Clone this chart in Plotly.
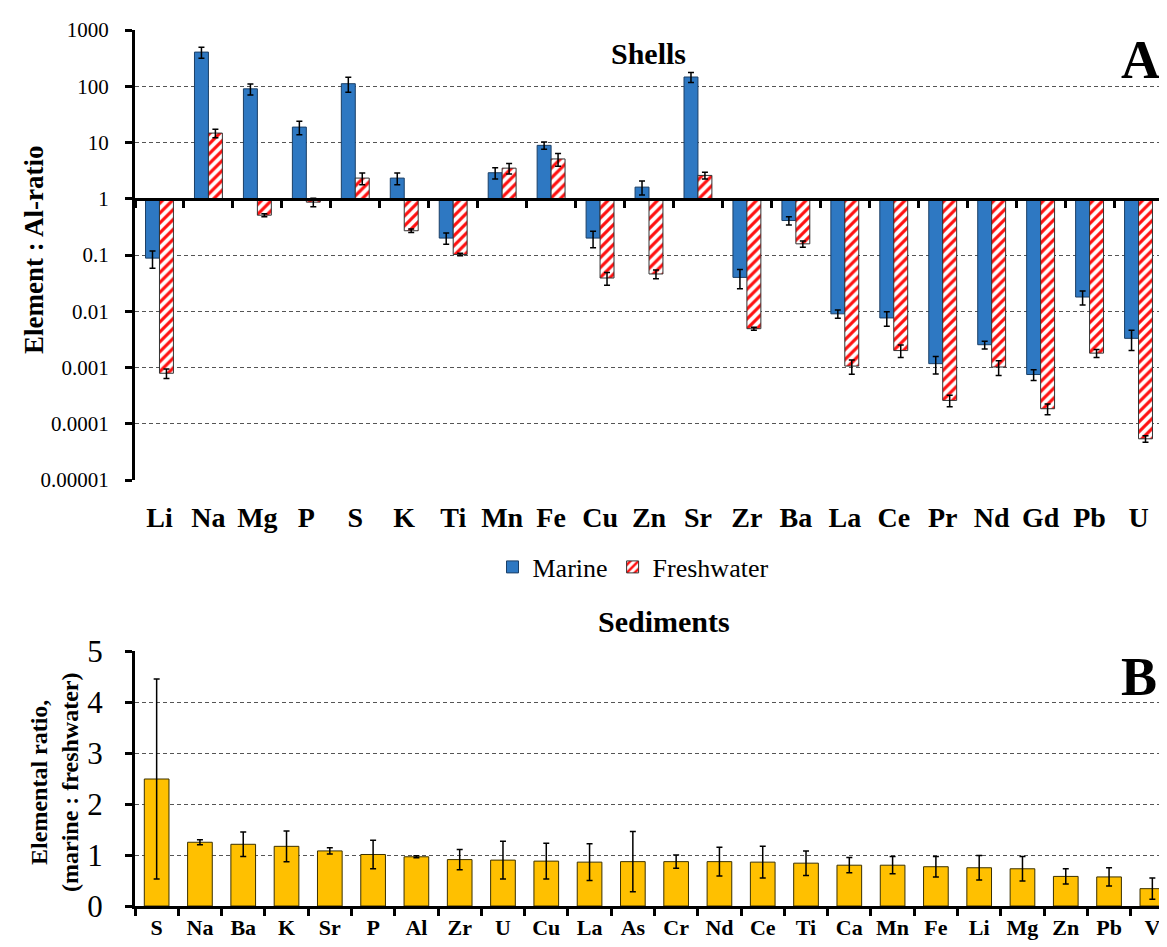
import plotly.graph_objects as go

# ---------------- data ----------------
shell_elements = ["Li", "Na", "Mg", "P", "S", "K", "Ti", "Mn", "Fe", "Cu", "Zn",
                  "Sr", "Zr", "Ba", "La", "Ce", "Pr", "Nd", "Gd", "Pb", "U"]
marine = [0.088, 405, 90, 18.8, 111, 2.33, 0.20, 2.9, 8.9, 0.20, 1.61,
          146, 0.040, 0.41, 0.0090, 0.0076, 0.00117, 0.00254, 0.00075, 0.0179, 0.0033]
marine_err = [0.03, 90, 20, 5, 33, 0.55, 0.045, 0.65, 1.3, 0.065, 0.45,
              30, 0.015, 0.07, 0.0015, 0.0022, 0.0004, 0.0004, 0.00016, 0.005, 0.0013]
freshwater = [0.00079, 14.7, 0.51, 0.87, 2.33, 0.27, 0.102, 3.5, 5.1, 0.039, 0.046,
              2.6, 0.0049, 0.158, 0.00106, 0.0020, 0.00026, 0.00102, 0.000185, 0.0018, 0.000054]
freshwater_err = [0.00015, 2.5, 0.03, 0.15, 0.55, 0.02, 0.005, 0.75, 1.3, 0.01, 0.008,
                  0.35, 0.0003, 0.02, 0.0003, 0.0005, 0.00006, 0.0003, 0.00004, 0.0003, 0.000007]

log_tickvals = [1e3, 1e2, 1e1, 1, 1e-1, 1e-2, 1e-3, 1e-4, 1e-5]
log_ticktext = ["1000", "100", "10", "1", "0.1", "0.01", "0.001", "0.0001", "0.00001"]

sed_elements = ["S", "Na", "Ba", "K", "Sr", "P", "Al", "Zr", "U", "Cu", "La", "As",
                "Cr", "Nd", "Ce", "Ti", "Ca", "Mn", "Fe", "Li", "Mg", "Zn", "Pb", "V"]
sed_ratio = [2.49, 1.25, 1.21, 1.17, 1.08, 1.01, 0.965, 0.91, 0.90, 0.88, 0.86, 0.87,
             0.87, 0.87, 0.86, 0.84, 0.80, 0.80, 0.77, 0.75, 0.73, 0.58, 0.57, 0.34]
sed_err = [1.96, 0.05, 0.24, 0.30, 0.06, 0.28, 0.02, 0.20, 0.37, 0.35, 0.36, 0.59,
           0.13, 0.28, 0.31, 0.24, 0.15, 0.17, 0.20, 0.24, 0.24, 0.15, 0.18, 0.21]
lin_tickvals = [0, 1, 2, 3, 4, 5]

# ---------------- layout helpers ----------------
W, H = 1167, 947
def px(x):
    return x / W
def py(y):
    return 1 - y / H

SERIF = "Liberation Serif"
top_dom = [py(472), py(22)]
bot_dom = [py(898), py(643)]
# position of value 1 on the log axis (range -5..3)
axis1_pos = top_dom[0] + (0 - (-5)) / 8 * (top_dom[1] - top_dom[0])

fig = go.Figure()

base_one = 1
fig.add_trace(go.Bar(
    x=shell_elements, y=[v - base_one for v in marine], base=base_one,
    name="Marine", xaxis="x", yaxis="y",
    marker=dict(color="#2E78C2", line=dict(color="#1B3F66", width=1)),
    error_y=dict(type="data", array=marine_err, color="black", thickness=1.5, width=3),
))
fig.add_trace(go.Bar(
    x=shell_elements, y=[v - base_one for v in freshwater], base=base_one,
    name="Freshwater", xaxis="x", yaxis="y",
    marker=dict(color="white", line=dict(color="#333333", width=1),
                pattern=dict(shape="/", fgcolor="#FF1010", bgcolor="white",
                             size=7, solidity=0.45)),
    error_y=dict(type="data", array=freshwater_err, color="black", thickness=1.5, width=3),
))
# invisible trace so the crossing axis at value 1 gets category ticks
fig.add_trace(go.Scatter(
    x=shell_elements, y=[1] * len(shell_elements), xaxis="x3", yaxis="y",
    mode="markers", marker=dict(opacity=0), showlegend=False, hoverinfo="skip",
))

fig.add_trace(go.Bar(
    x=sed_elements, y=sed_ratio, xaxis="x2", yaxis="y2", showlegend=False,
    marker=dict(color="#FFC000", line=dict(color="#3A3000", width=1)),
    error_y=dict(type="data", array=sed_err, color="black", thickness=1.5, width=3),
))

grid = dict(showgrid=True, gridcolor="#555555", gridwidth=1.3, griddash="4px,3px")

fig.update_layout(
    width=W, height=H, template="none",
    margin=dict(l=0, r=0, t=0, b=0),
    paper_bgcolor="white", plot_bgcolor="white",
    barmode="group", bargap=0.43, bargroupgap=0,
    font=dict(family=SERIF, color="black"),
    xaxis=dict(domain=[px(127), px(1155)], anchor="y", type="category",
               categoryorder="array", categoryarray=shell_elements,
               range=[-0.5, len(shell_elements) - 0.5],
               showline=False, showgrid=False, ticks="", ticklabelstandoff=18,
               tickangle=0,
               tickfont=dict(family=SERIF, size=28, color="black", weight="bold")),
    xaxis3=dict(overlaying="x", anchor="free", position=axis1_pos, type="category",
                categoryorder="array", categoryarray=shell_elements,
                range=[-0.5, len(shell_elements) - 0.5],
                showline=True, linecolor="black", linewidth=3,
                ticks="outside", tickson="boundaries", ticklen=7, tickwidth=2.5,
                tickcolor="black", showticklabels=False, showgrid=False),
    yaxis=dict(domain=top_dom, anchor="x", type="log", range=[-5, 3],
               tickvals=log_tickvals, ticktext=log_ticktext,
               showline=True, linecolor="black", linewidth=3,
               ticks="outside", ticklen=7, tickwidth=2.5, tickcolor="black",
               ticklabelstandoff=12,
               tickfont=dict(family=SERIF, size=21, color="black"),
               zeroline=False, **grid),
    xaxis2=dict(domain=[px(127), px(1166)], anchor="y2", type="category",
                categoryorder="array", categoryarray=sed_elements,
                range=[-0.5, len(sed_elements) - 0.5],
                showline=True, linecolor="black", linewidth=3,
                ticks="outside", tickson="boundaries", ticklen=7, tickwidth=2.5,
                tickcolor="black", ticklabelstandoff=0, showgrid=False,
                tickangle=0,
                tickfont=dict(family=SERIF, size=22, color="black", weight="bold")),
    yaxis2=dict(domain=bot_dom, anchor="x2", range=[0, 5],
                tickvals=lin_tickvals,
                showline=True, linecolor="black", linewidth=3,
                ticks="outside", ticklen=7, tickwidth=2.5, tickcolor="black",
                ticklabelstandoff=16,
                tickfont=dict(family=SERIF, size=31, color="black"),
                zeroline=False, **grid),
    legend=dict(orientation="h", x=px(625), y=py(559), xanchor="center", yanchor="middle",
                font=dict(family=SERIF, size=26, color="black"),
                bgcolor="rgba(0,0,0,0)", itemwidth=30, tracegroupgap=0),
    showlegend=True,
)

ann = [
    dict(text="<b>Shells</b>", x=px(641), y=py(45), size=30, angle=0),
    dict(text="<b>A</b>", x=px(1132), y=py(52), size=54, angle=0),
    dict(text="<b>Sediments</b>", x=px(656), y=py(613), size=30, angle=0),
    dict(text="<b>B</b>", x=px(1131), y=py(669), size=54, angle=0),
    dict(text="<b>Element : Al-ratio</b>", x=px(26), y=py(242), size=27, angle=-90),
    dict(text="<b>Elemental ratio,<br>(marine : freshwater)</b>", x=px(46), y=py(775),
         size=24, angle=-90),
]
for a in ann:
    fig.add_annotation(text=a["text"], x=a["x"], y=a["y"], xref="paper", yref="paper",
                       xanchor="center", yanchor="middle", showarrow=False,
                       textangle=a["angle"],
                       font=dict(family=SERIF, size=a["size"], color="black"))

fig.write_html("out.html")
